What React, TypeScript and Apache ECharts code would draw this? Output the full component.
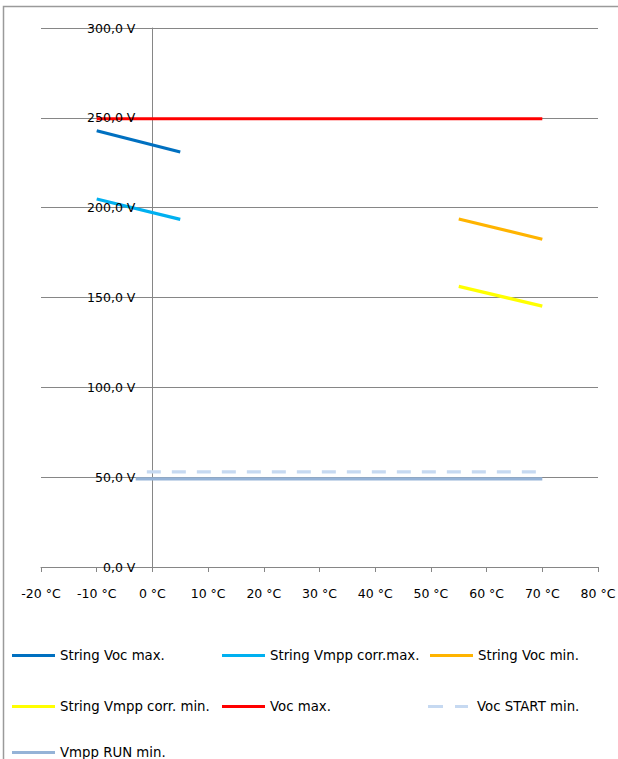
import React, { useEffect, useRef } from "react";
import * as echarts from "echarts";

const xTickValues = [-20, -10, 0, 10, 20, 30, 40, 50, 60, 70, 80];
const yTickValues = [0, 50, 100, 150, 200, 250, 300];

const seriesNames = [
  "String Voc max.",
  "String Vmpp corr.max.",
  "String Voc min.",
  "String Vmpp corr. min.",
  "Voc max.",
  "Voc START min.",
  "Vmpp RUN min.",
];

// [temperature °C, voltage V]
const stringVocMax = [[-10, 242.8], [5, 231.0]];
const stringVmppCorrMax = [[-10, 204.8], [5, 193.5]];
const stringVocMin = [[55, 193.7], [70, 182.4]];
const stringVmppCorrMin = [[55, 156.2], [70, 145.2]];
const vocMax = [[-10, 249.5], [70, 249.5]];
const vocStartMin = [[-1, 53], [70, 53]];
const vmppRunMin = [[-3, 49], [70, 49]];

const seriesData = [
  stringVocMax,
  stringVmppCorrMax,
  stringVocMin,
  stringVmppCorrMin,
  vocMax,
  vocStartMin,
  vmppRunMin,
];

const seriesColors = ["#0070C0", "#00B0F0", "#FFB400", "#FFFF00", "#FF0000", "#C6D9F1", "#95B3D7"];

const FONT = "DejaVu Sans";

export default function App() {
  const ref = useRef<HTMLDivElement>(null);

  useEffect(() => {
    document.body.style.margin = "0";
    const chart = echarts.init(ref.current!, null, { renderer: "svg" });

    const gridLeft = 41;
    const gridRight = 20;
    const plotWidth = 618 - gridLeft - gridRight;
    const xMin = xTickValues[0];
    const xMax = xTickValues[xTickValues.length - 1];
    const yMin = yTickValues[0];
    const yMax = yTickValues[yTickValues.length - 1];
    const zeroOffset = ((0 - xMin) / (xMax - xMin)) * plotWidth;

    const legendPos = [
      [12, 649],
      [222, 649],
      [430, 649],
      [12, 700],
      [222, 700],
      [428, 700],
      [12, 746],
    ];

    const legends = seriesNames.map((name, i) => ({
      data: [name],
      left: legendPos[i][0],
      top: legendPos[i][1],
      padding: 0,
      itemWidth: i === 5 ? 40 : 43,
      itemHeight: 3,
      itemGap: 5,
      symbolKeepAspect: false,
      icon: i === 5 ? "path://M0,0h15v3h-15z M27,0h13v3h-13z" : "rect",
      textStyle: {
        fontFamily: FONT,
        fontSize: 13.3,
        color: "#000",
        padding: i === 5 ? [0, 0, 0, 4] : [0, 0, 0, 0],
      },
    }));

    const series = seriesNames.map((name, i) => ({
      name,
      type: "line",
      data: seriesData[i],
      yAxisIndex: 0,
      symbol: "none",
      showSymbol: false,
      color: seriesColors[i],
      lineStyle: {
        color: seriesColors[i],
        width: 3.2,
        type: i === 5 ? [14, 11] : "solid",
      },
      z: i === 5 ? 3 : 2,
    }));

    const yLabelFormatter = (v: number) => `${v.toFixed(1).replace(".", ",")} V`;

    chart.setOption({
      animation: false,
      backgroundColor: "#fff",
      grid: {
        left: gridLeft,
        right: gridRight,
        top: 28,
        bottom: 192,
        containLabel: false,
        outerBoundsMode: "none",
      },
      graphic: [
        {
          type: "rect",
          shape: { x: 3.5, y: 6.5, width: 700, height: 800 },
          style: { fill: "none", stroke: "#9a9a9a", lineWidth: 1.5 },
          silent: true,
        },
      ],
      xAxis: {
        type: "value",
        min: xMin,
        max: xMax,
        interval: 10,
        splitLine: { show: false },
        axisLine: { show: true, onZero: false, lineStyle: { color: "#868686", width: 1 } },
        axisTick: { show: true, length: 5, lineStyle: { color: "#868686" } },
        axisLabel: {
          fontFamily: FONT,
          fontSize: 12.5,
          color: "#000",
          margin: 20,
          formatter: (v: number) => `${v} °C`,
        },
      },
      yAxis: [
        {
          type: "value",
          min: yMin,
          max: yMax,
          interval: 50,
          offset: -zeroOffset,
          splitLine: { show: true, lineStyle: { color: "#868686", width: 1 } },
          axisLine: { show: true, onZero: false, lineStyle: { color: "#868686", width: 1 } },
          axisTick: { show: false },
          axisLabel: { show: false },
        },
        {
          type: "value",
          position: "left",
          min: yMin,
          max: yMax,
          interval: 50,
          offset: -zeroOffset,
          z: 10,
          splitLine: { show: false },
          axisLine: { show: false, onZero: false },
          axisTick: { show: false },
          axisLabel: {
            fontFamily: FONT,
            fontSize: 12.5,
            color: "#000",
            margin: 17,
            formatter: yLabelFormatter,
          },
        },
      ],
      legend: legends,
      series,
    });

    return () => chart.dispose();
  }, []);

  return <div ref={ref} style={{ width: 618, height: 759 }} />;
}
